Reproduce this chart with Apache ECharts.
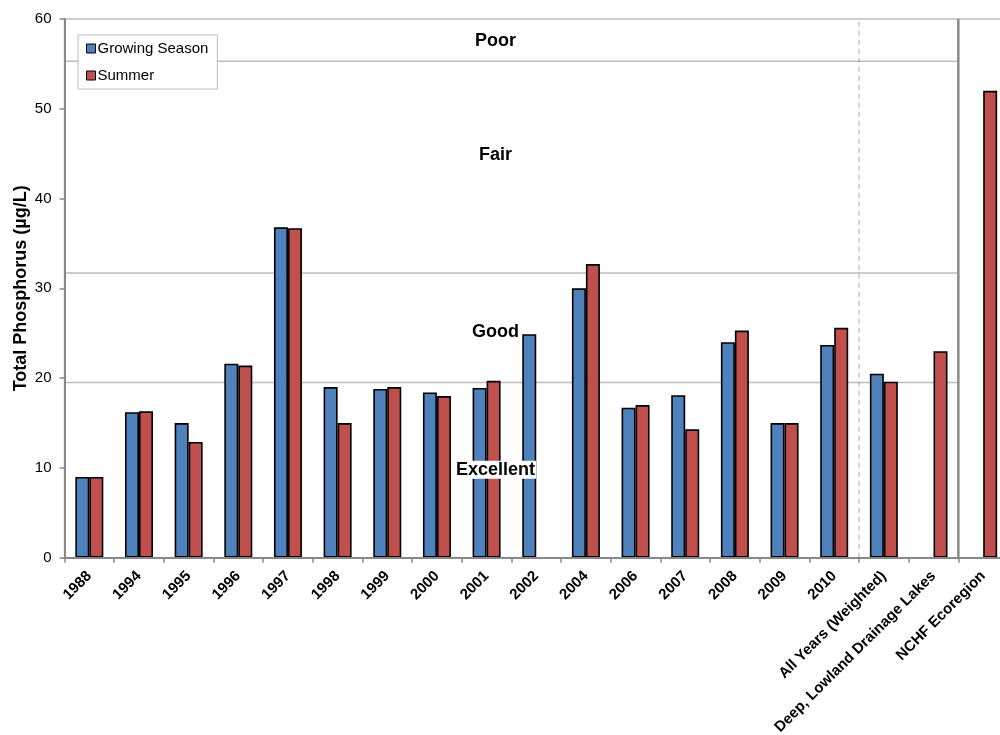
<!DOCTYPE html>
<html>
<head>
<meta charset="utf-8">
<script src="https://cdn.jsdelivr.net/npm/echarts@6/dist/echarts.min.js"></script>
<style>html,body{margin:0;padding:0;background:#fff}#c{width:1000px;height:735px}</style>
</head>
<body>
<div id="c"></div>
<script>
var categories = ['1988','1994','1995','1996','1997','1998','1999','2000','2001','2002','2004','2006','2007','2008','2009','2010','All Years (Weighted)','Deep, Lowland Drainage Lakes','NCHF Ecoregion'];
var growingSeason = [9.0,16.2,15.0,21.6,36.8,19.0,18.8,18.4,18.9,24.9,30.0,16.7,18.1,24.0,15.0,23.7,20.5,null,null];
var summer = [9.0,16.3,12.9,21.4,36.7,15.0,19.0,18.0,19.7,null,32.7,17.0,14.3,25.3,15.0,25.6,19.6,23.0,52.0];
var yTicks = [0,10,20,30,40,50,60];
var thresholds = [55.3, 31.7, 19.5];
var dashedBoundary = 16;
var solidBoundary = 18;
var zoneLabels = [['Poor', 8.68, 57.5], ['Fair', 8.68, 44.9], ['Good', 8.68, 25.15], ['Excellent', 8.68, 9.8]];

var FONT = '"Liberation Sans", Arial, sans-serif';
var series = [];
thresholds.forEach(function (t) {
  series.push({
    type: 'line', xAxisIndex: 1, silent: true, symbol: 'none', z: 1,
    lineStyle: { color: '#bdbdbd', width: 1.5 },
    data: [[0, t], [solidBoundary, t]]
  });
});
series.push({
  type: 'line', xAxisIndex: 1, silent: true, symbol: 'none', z: 1,
  lineStyle: { color: '#aaaaaa', width: 1, type: [5, 4] },
  data: [[dashedBoundary, 0], [dashedBoundary, 60]]
});
series.push({
  type: 'line', xAxisIndex: 1, silent: true, symbol: 'none', z: 1,
  lineStyle: { color: '#8a8a8a', width: 2.5 },
  data: [[solidBoundary, 0], [solidBoundary, 60]]
});
series.push({
  name: 'Growing Season', type: 'bar', barWidth: 14, barGap: '0%', z: 2,
  itemStyle: { color: '#4F81BD', borderColor: '#000', borderWidth: 1.6 },
  data: growingSeason
});
series.push({
  name: 'Summer', type: 'bar', barWidth: 14, barGap: '0%', z: 2,
  itemStyle: { color: '#C0504D', borderColor: '#000', borderWidth: 1.6 },
  data: summer
});
series.push({
  type: 'scatter', xAxisIndex: 1, silent: true, symbolSize: 1, z: 5,
  itemStyle: { color: 'rgba(0,0,0,0)' },
  label: {
    show: true, position: 'inside',
    formatter: function (p) { return p.value[2]; },
    fontFamily: FONT, fontWeight: 'bold', fontSize: 18, color: '#000',
    textBorderWidth: 0, textBorderColor: 'transparent', opacity: 1
  },
  data: zoneLabels.map(function (z) {
    var d = { value: [z[1], z[2], z[0]] };
    if (z[0] === 'Excellent') d.label = { backgroundColor: '#ffffff', padding: [0, 1] };
    return d;
  })
});

var chart = echarts.init(document.getElementById('c'), null, { renderer: 'canvas' });
chart.setOption({
  animation: false,
  textStyle: { fontFamily: FONT },
  grid: { left: 64.5, top: 19, width: 943.5, bottom: 177.3, show: true, borderColor: '#bdbdbd', borderWidth: 1.5, containLabel: false, outerBoundsMode: 'none' },
  legend: {
    data: ['Growing Season', 'Summer'], orient: 'vertical', left: 78, top: 35,
    padding: [6, 9, 6, 8], itemWidth: 9, itemHeight: 9, itemGap: 12,
    borderColor: '#bdbdbd', borderWidth: 1, backgroundColor: '#fff',
    icon: 'rect',
    itemStyle: { borderColor: '#000', borderWidth: 1 },
    textStyle: { fontFamily: FONT, fontSize: 15, color: '#000', padding: [0, 0, 0, -3] }
  },
  xAxis: [{
    type: 'category', data: categories, z: 3,
    axisLine: { lineStyle: { color: '#888', width: 2 } },
    axisTick: { show: true, length: 5, lineStyle: { color: '#888', width: 1.5 } },
    axisLabel: { rotate: 45, interval: 0, fontFamily: FONT, fontWeight: 'bold', fontSize: 15, color: '#000', margin: 16 },
    splitLine: { show: false }
  }, {
    type: 'value', min: 0, max: categories.length, show: false
  }],
  yAxis: {
    type: 'value', min: yTicks[0], max: yTicks[yTicks.length - 1], interval: 10, z: 3,
    name: 'Total Phosphorus (µg/L)', nameLocation: 'middle', nameGap: 34, nameMoveOverlap: false,
    nameTextStyle: { fontFamily: FONT, fontWeight: 'bold', fontSize: 18, color: '#000' },
    axisLine: { show: true, lineStyle: { color: '#888', width: 2 } },
    axisTick: { show: true, length: 5, lineStyle: { color: '#888', width: 1.5 } },
    axisLabel: { fontFamily: FONT, fontSize: 15, color: '#000', margin: 13 },
    splitLine: { show: false }
  },
  series: series
});
</script>
</body>
</html>
